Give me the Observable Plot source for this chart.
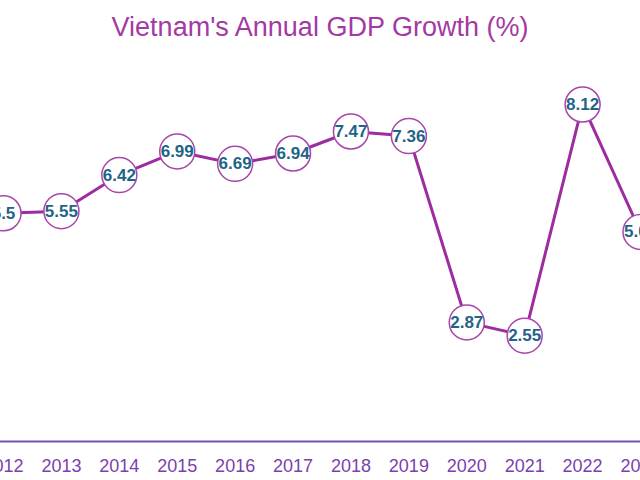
<!DOCTYPE html>
<html>
<head>
<meta charset="utf-8">
<script src="https://cdn.jsdelivr.net/npm/d3@7"></script>
<script src="https://cdn.jsdelivr.net/npm/@observablehq/plot@0.6"></script>
<style>
  html, body { margin: 0; padding: 0; background: #fff; overflow: hidden; width: 640px; height: 480px; }
  #title { height: 50px; line-height: 54px; text-align: center; font-family: "Liberation Sans", Arial, sans-serif; font-size: 27px; color: #a33aa3; }
</style>
</head>
<body>
<div id="title">Vietnam's Annual GDP Growth (%)</div>
<div id="chart"></div>
<script>
const years = [2012, 2013, 2014, 2015, 2016, 2017, 2018, 2019, 2020, 2021, 2022, 2023];
const growth = [5.50, 5.55, 6.42, 6.99, 6.69, 6.94, 7.47, 7.36, 2.87, 2.55, 8.12, 5.05];
const labels = ["5.5", "5.55", "6.42", "6.99", "6.69", "6.94", "7.47", "7.36", "2.87", "2.55", "8.12", "5.05"];

const data = years.map((y, i) => ({year: y, value: growth[i], label: labels[i]}));

const chart = Plot.plot({
  width: 640,
  height: 430,
  marginLeft: 0,
  marginRight: 0,
  marginTop: 17.5,
  marginBottom: 39,
  style: {fontFamily: "'Liberation Sans', Arial, sans-serif", fontSize: "18px", color: "#7b3fae", overflow: "visible", background: "transparent"},
  x: {type: "linear", domain: [2012, 2023], range: [3, 640], ticks: years, tickFormat: d => String(d), tickSize: 0, tickPadding: 18, label: null},
  y: {domain: [0, 9], axis: null},
  marks: [
    Plot.ruleY([0], {stroke: "#7b4fb2", strokeWidth: 2}),
    Plot.line(data, {x: "year", y: "value", stroke: "#9c2ca0", strokeWidth: 3}),
    Plot.dot(data, {x: "year", y: "value", r: 17.5, fill: "white", stroke: "#a846ab", strokeWidth: 1.5}),
    Plot.text(data, {x: "year", y: "value", text: "label", fill: "#1f6488", fontSize: 17, fontWeight: "bold"})
  ]
});
document.getElementById("chart").appendChild(chart);
</script>
</body>
</html>
